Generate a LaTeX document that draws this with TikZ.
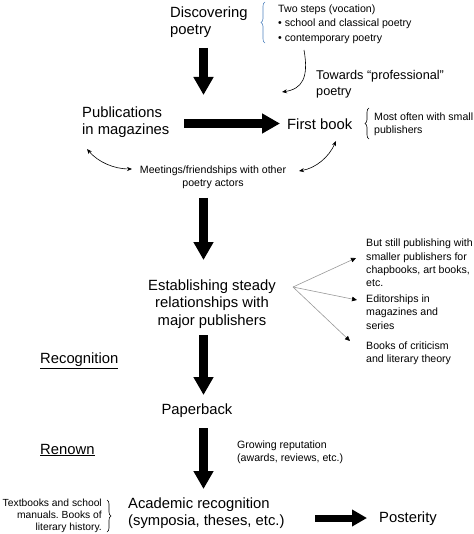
\documentclass[tikz,border=0pt]{standalone}
\usepackage{fontspec}
\setmainfont{Liberation Sans}
\usetikzlibrary{arrows.meta,decorations.pathreplacing}
\definecolor{braceblue}{HTML}{4F81BD}
\frenchspacing
\begin{document}
\begin{tikzpicture}[x=1pt,y=-1pt,
  bigtxt/.style={font=\fontsize{14.8}{17.5}\selectfont, align=left, inner sep=0pt},
  smalltxt/.style={font=\fontsize{10.6}{13.3}\selectfont, align=left, inner sep=0pt},
  midtxt/.style={font=\fontsize{12.7}{16}\selectfont, align=left, inner sep=0pt},
  bigarrow/.style={line width=9pt, -{Triangle[width=19pt,length=18pt]}},
  smallbigarrow/.style={line width=7pt, -{Triangle[width=16pt,length=15pt]}},
  thinarrow/.style={line width=0.6pt, -{Stealth[length=5pt,width=4pt]}},
  thindouble/.style={line width=0.6pt, {Stealth[length=5pt,width=4pt]}-{Stealth[length=5pt,width=4pt]}},
  grayarrow/.style={draw=black!40, line width=0.6pt, -{Triangle[black,length=5pt,width=4.5pt]}},
  bracestyle/.style={decorate, decoration={brace, amplitude=4pt}, line width=0.6pt}]
\useasboundingbox (0,0) rectangle (473,534);

% texts
\node[bigtxt, anchor=west] (disc) at (170,22) {Discovering\\poetry};
\node[smalltxt, anchor=west, font=\fontsize{10.6}{14.5}\selectfont] (steps) at (278,24) {Two steps (vocation)\\• school and classical poetry\\• contemporary poetry};
\node[midtxt, anchor=west] (towards) at (316,84) {Towards “professional”\\poetry};
\node[bigtxt, anchor=west] (pub) at (82,122) {Publications\\in magazines};
\node[bigtxt, anchor=west] (first) at (287,124) {First book};
\node[smalltxt, anchor=west] (small) at (374,124) {Most often with small\\publishers};
\node[smalltxt, align=center] (meet) at (213,177) {Meetings/friendships with other\\poetry actors};
\node[bigtxt, align=center] (est) at (212,304) {Establishing steady\\relationships with\\major publishers};
\node[smalltxt, anchor=west] (still) at (366,263) {But still publishing with\\smaller publishers for\\chapbooks, art books,\\etc.};
\node[smalltxt, anchor=west] (edit) at (366,312) {Editorships in\\magazines and\\series};
\node[smalltxt, anchor=west] (crit) at (366,353) {Books of criticism\\and literary theory};
\node[bigtxt, anchor=west] (recog) at (40,361) {\underline{Recognition}};
\node[bigtxt] (paper) at (197,411) {Paperback};
\node[bigtxt, anchor=west] (renown) at (40,450) {\underline{Renown}};
\node[smalltxt, anchor=west] (grow) at (237,452) {Growing reputation\\(awards, reviews, etc.)};
\node[bigtxt, anchor=west] (acad) at (128,513) {Academic recognition\\(symposia, theses, etc.)};
\node[smalltxt, anchor=east, align=right, font=\fontsize{10.3}{12}\selectfont] (text) at (102,516) {Textbooks and school\\manuals. Books of\\literary history.};
\node[bigtxt, anchor=west] (post) at (379,519) {Posterity};

% braces
\draw[bracestyle, draw=braceblue] (265,43) -- (265,2);
\draw[bracestyle] (369,139) -- (369,108);
\draw[bracestyle] (107,500) -- (107,532);

% coordinates for arrow ends
\coordinate (a1s) at (203.5,48);
\coordinate (a1e) at (203.5,95);
\coordinate (h1s) at (184,123.5);
\coordinate (h1e) at (280,123.5);
\coordinate (a2s) at (203.5,198);
\coordinate (a2e) at (203.5,260);
\coordinate (a3s) at (203.5,335);
\coordinate (a3e) at (203.5,395);
\coordinate (a4s) at (203.5,428);
\coordinate (a4e) at (203.5,489);
\coordinate (h2s) at (315,518);
\coordinate (h2e) at (367,518);
\coordinate (cs) at (304,50);
\coordinate (ce) at (282,92);
\coordinate (l1) at (87,149);
\coordinate (l2) at (132,169);
\coordinate (r1) at (336,141);
\coordinate (r2) at (299,171);
\coordinate (go) at (293,287);
\coordinate (g1) at (356,258);
\coordinate (g2) at (357,300);
\coordinate (g3) at (350,341);

% big arrows
\draw[bigarrow] (a1s) -- (a1e);
\draw[bigarrow] (h1s) -- (h1e);
\draw[bigarrow] (a2s) -- (a2e);
\draw[bigarrow] (a3s) -- (a3e);
\draw[bigarrow] (a4s) -- (a4e);
\draw[smallbigarrow] (h2s) -- (h2e);

% thin arrows
\draw[thinarrow] (cs) .. controls (309,78) and (302,89) .. (ce);
\draw[thindouble] (l1) .. controls (98,162) and (114,169) .. (l2);
\draw[thindouble] (r1) .. controls (329,157) and (316,168) .. (r2);
\draw[grayarrow] (go) -- (g1);
\draw[grayarrow] (go) -- (g2);
\draw[grayarrow] (go) -- (g3);
\end{tikzpicture}
\end{document}
